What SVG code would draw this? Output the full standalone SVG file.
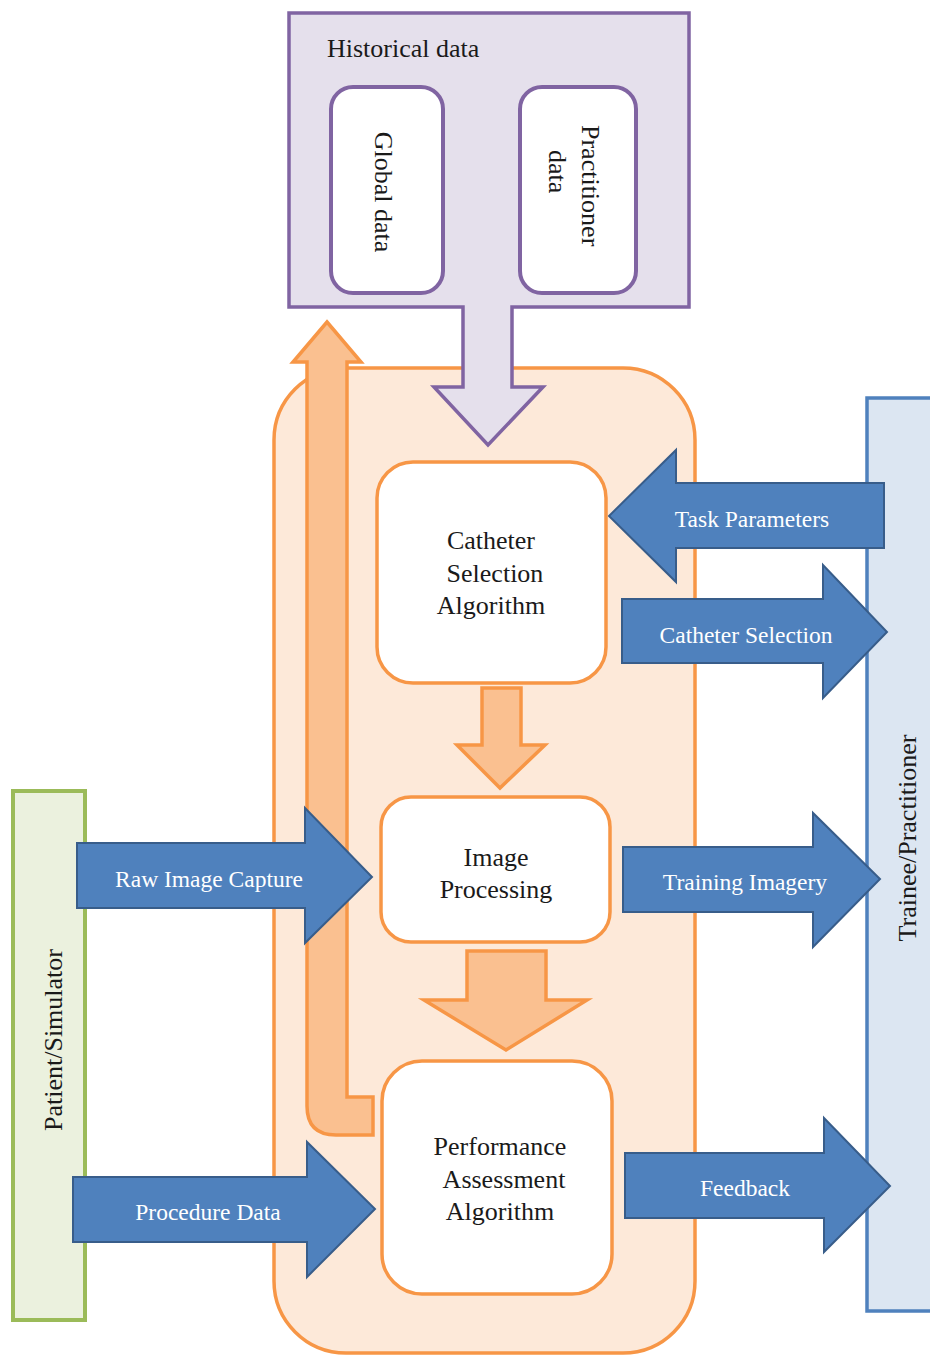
<svg xmlns="http://www.w3.org/2000/svg" width="930" height="1356" viewBox="0 0 930 1356">
<style>
text{font-family:"Liberation Serif","Times New Roman",serif;}
.node{fill:#FFFFFF;stroke:#F79646;stroke-width:3.5;}
.ntext{font-size:26px;fill:#1a1a1a;text-anchor:middle;}
.btext{font-size:23.5px;fill:#FFFFFF;text-anchor:middle;}
.barrow{fill:#4F81BD;stroke:#385D8A;stroke-width:2;stroke-linejoin:miter;}
.oarrow{fill:#FAC090;stroke:#F79646;stroke-width:3.5;stroke-linejoin:miter;}
.pbox{fill:#FFFFFF;stroke:#8064A2;stroke-width:4;}
</style>

<g id="container">
  <rect x="274" y="368" width="421" height="985" rx="72" ry="72" fill="#FDE9D9" stroke="#F79646" stroke-width="3.5"/>
</g>

<g id="patient-simulator">
  <rect x="13" y="791" width="72" height="529" fill="#EBF1DE" stroke="#9BBB59" stroke-width="4"/>
  <text class="ntext" transform="translate(53,1040) rotate(-90)" y="9">Patient/Simulator</text>
</g>

<g id="trainee-practitioner">
  <rect x="867" y="398" width="80" height="913" fill="#DCE6F2" stroke="#4F81BD" stroke-width="3.5"/>
  <text class="ntext" transform="translate(907,838) rotate(-90)" y="9">Trainee/Practitioner</text>
</g>

<g id="historical-data">
  <path d="M289,13 L689,13 L689,307 L512,307 L512,387 L543,387 L488,445 L434,387 L463,387 L463,307 L289,307 Z" fill="#E5E0EC" stroke="#8064A2" stroke-width="3.5"/>
  <text x="327" y="57" style="font-size:26px;fill:#1a1a1a;">Historical data</text>
</g>

<g id="global-data">
  <rect x="331" y="87" width="112" height="206" rx="22" ry="22" class="pbox"/>
  <text class="ntext" transform="translate(384,192) rotate(90)" y="9">Global data</text>
</g>

<g id="practitioner-data">
  <rect x="520" y="87" width="116" height="206" rx="22" ry="22" class="pbox"/>
  <text transform="translate(591,125) rotate(90)" y="9" style="font-size:26px;fill:#1a1a1a;">Practitioner</text>
  <text transform="translate(558,150) rotate(90)" y="9" style="font-size:26px;fill:#1a1a1a;">data</text>
</g>

<g id="connectors">
  <!-- feedback loop arrow -->
  <path class="oarrow" d="M327,322 L361,362 L347,362 L347,1097 L373,1097 L373,1135 L336,1135 Q307,1135 307,1106 L307,362 L293,362 Z"/>
  <!-- catheter -> image -->
  <path class="oarrow" d="M482,688 L521,688 L521,745 L545,745 L500,788 L457,745 L482,745 Z"/>
  <!-- image -> performance -->
  <path class="oarrow" d="M467,951 L546,951 L546,1000 L587,1000 L506,1050 L424,1000 L467,1000 Z"/>

  <!-- Task Parameters (left) -->
  <path class="barrow" d="M884,483 L884,548 L676,548 L676,582 L609,516 L676,450 L676,483 Z"/>
  <text class="btext" x="752" y="527">Task Parameters</text>
  <!-- Catheter Selection (right) -->
  <path class="barrow" d="M622,599 L823,599 L823,565 L887,632 L823,698 L823,663 L622,663 Z"/>
  <text class="btext" x="746" y="643">Catheter Selection</text>
  <!-- Raw Image Capture -->
  <path class="barrow" d="M77,843 L305,843 L305,808 L372,877 L305,943 L305,908 L77,908 Z"/>
  <text class="btext" x="209" y="887">Raw Image Capture</text>
  <!-- Training Imagery -->
  <path class="barrow" d="M623,847 L813,847 L813,813 L880,879 L813,947 L813,912 L623,912 Z"/>
  <text class="btext" x="745" y="890">Training Imagery</text>
  <!-- Procedure Data -->
  <path class="barrow" d="M73,1177 L307,1177 L307,1142 L375,1209 L307,1277 L307,1242 L73,1242 Z"/>
  <text class="btext" x="208" y="1220">Procedure Data</text>
  <!-- Feedback -->
  <path class="barrow" d="M625,1153 L824,1153 L824,1118 L890,1186 L824,1252 L824,1218 L625,1218 Z"/>
  <text class="btext" x="745" y="1196">Feedback</text>
</g>

<g id="catheter-selection-algorithm">
  <rect x="377" y="462" width="229" height="221" rx="36" ry="36" class="node"/>
  <text class="ntext" x="491" y="549">Catheter</text>
  <text class="ntext" x="495" y="582">Selection</text>
  <text class="ntext" x="491" y="614">Algorithm</text>
</g>

<g id="image-processing">
  <rect x="381" y="797" width="229" height="145" rx="30" ry="30" class="node"/>
  <text class="ntext" x="496" y="866">Image</text>
  <text class="ntext" x="496" y="898">Processing</text>
</g>

<g id="performance-assessment-algorithm">
  <rect x="382" y="1061" width="230" height="233" rx="40" ry="40" class="node"/>
  <text class="ntext" x="500" y="1155">Performance</text>
  <text class="ntext" x="504" y="1188">Assessment</text>
  <text class="ntext" x="500" y="1220">Algorithm</text>
</g>
</svg>
